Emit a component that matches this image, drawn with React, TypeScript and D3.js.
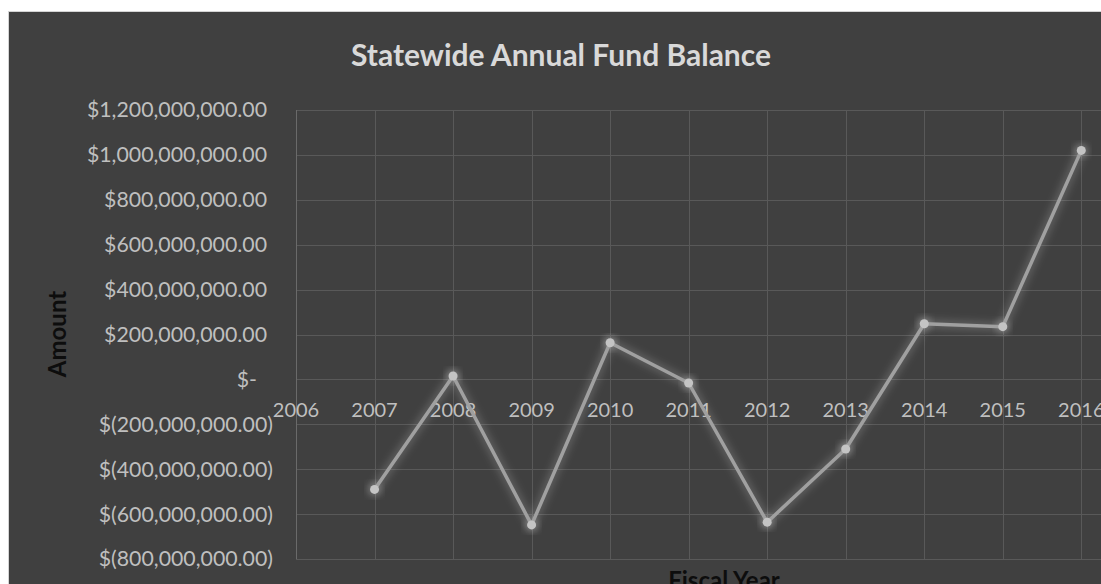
import React from "react";
import * as d3 from "d3";

// Fiscal years and year-end balances (USD)
const years: number[] = [2007, 2008, 2009, 2010, 2011, 2012, 2013, 2014, 2015, 2016];
const balances: number[] = [
  -490000000, 15000000, -648000000, 163000000, -16000000,
  -636000000, -310000000, 248000000, 235000000, 1020000000,
];
const yTicks: number[] = [
  1200000000, 1000000000, 800000000, 600000000, 400000000, 200000000,
  0, -200000000, -400000000, -600000000, -800000000,
];
const xTicks: number[] = [2006, 2007, 2008, 2009, 2010, 2011, 2012, 2013, 2014, 2015, 2016, 2017];

const TITLE = "Statewide Annual Fund Balance";
const Y_TITLE = "Amount";
const X_TITLE = "Fiscal Year";

const W = 1101;
const H = 584;
const FONT = "Lato, 'Open Sans', sans-serif";

const fmt = d3.format(",.2f");
function accounting(v: number): string {
  if (v === 0) return "$-";
  if (v < 0) return `$(${fmt(-v)})`;
  return `$${fmt(v)}`;
}

export default function App() {
  const x = d3.scaleLinear().domain([2006, 2016]).range([296, 1081.3]);
  const y = d3.scaleLinear().domain([-800000000, 1200000000]).range([559, 110]);

  const pts = years.map((yr, i) => [x(yr), y(balances[i])] as [number, number]);
  const line = d3.line<[number, number]>().x((d) => d[0]).y((d) => d[1]);
  const pathD = line(pts) || "";

  const labelRight = 273;
  const parenPad = 6;

  return (
    <svg
      width={W}
      height={H}
      style={{ position: "absolute", left: 0, top: 0, display: "block" }}
    >
      <defs>
        <filter id="glow" x="-20%" y="-20%" width="140%" height="140%">
          <feGaussianBlur stdDeviation="3.5" />
        </filter>
      </defs>
      <rect x={0} y={0} width={W} height={H} fill="#ffffff" />
      <rect x={8.5} y={11.5} width={W} height={H} fill="#404040" stroke="#d4d4d4" strokeWidth={1} />

      {/* horizontal gridlines */}
      {yTicks.map((t) => (
        <line
          key={"h" + t}
          x1={x(2006)}
          x2={W}
          y1={Math.round(y(t)) + 0.5}
          y2={Math.round(y(t)) + 0.5}
          stroke="#595959"
          strokeWidth={1}
        />
      ))}
      {/* vertical gridlines */}
      {xTicks.map((t) => (
        <line
          key={"v" + t}
          x1={Math.round(x(t)) + 0.5}
          x2={Math.round(x(t)) + 0.5}
          y1={y(1200000000)}
          y2={y(-800000000)}
          stroke={t === 2006 ? "#6a6a6a" : "#595959"}
          strokeWidth={1}
        />
      ))}

      {/* y-axis labels */}
      {yTicks.map((t) => (
        <text
          key={"yl" + t}
          x={t < 0 ? labelRight : t === 0 ? 257 : labelRight - parenPad}
          y={y(t)}
          dy="0.35em"
          textAnchor="end"
          fill="#bfbfbf"
          fontFamily={FONT}
          fontSize={21.3}
        >
          {accounting(t)}
        </text>
      ))}

      {/* x-axis labels, just below the zero line */}
      {xTicks.filter((t) => t <= 2016).map((t) => (
        <text
          key={"xl" + t}
          x={x(t)}
          y={y(0) + 38}
          textAnchor="middle"
          fill="#bfbfbf"
          fontFamily={FONT}
          fontSize={20}
        >
          {t}
        </text>
      ))}

      {/* soft glow under the series */}
      <path
        d={pathD}
        fill="none"
        stroke="#d9d9d9"
        strokeOpacity={0.18}
        strokeWidth={10}
        strokeLinejoin="round"
        filter="url(#glow)"
      />
      {pts.map((p, i) => (
        <circle key={"g" + i} cx={p[0]} cy={p[1]} r={7} fill="#e0e0e0" fillOpacity={0.3} filter="url(#glow)" />
      ))}

      <path
        d={pathD}
        fill="none"
        stroke="#a0a0a0"
        strokeWidth={3.5}
        strokeLinejoin="round"
        strokeLinecap="round"
      />
      {pts.map((p, i) => (
        <circle key={"m" + i} cx={p[0]} cy={p[1]} r={4.5} fill="#c4c4c4" />
      ))}

      {/* titles */}
      <text
        x={561}
        y={66}
        textAnchor="middle"
        fill="#d9d9d9"
        fontFamily={FONT}
        fontWeight="bold"
        fontSize={30}
      >
        {TITLE}
      </text>
      <text
        transform={`translate(66,334) rotate(-90)`}
        textAnchor="middle"
        fill="#0d0d0d"
        fontFamily={FONT}
        fontWeight="bold"
        fontSize={24}
      >
        {Y_TITLE}
      </text>
      <text
        x={724}
        y={589}
        textAnchor="middle"
        fill="#0d0d0d"
        fontFamily={FONT}
        fontWeight="bold"
        fontSize={24}
      >
        {X_TITLE}
      </text>
    </svg>
  );
}
